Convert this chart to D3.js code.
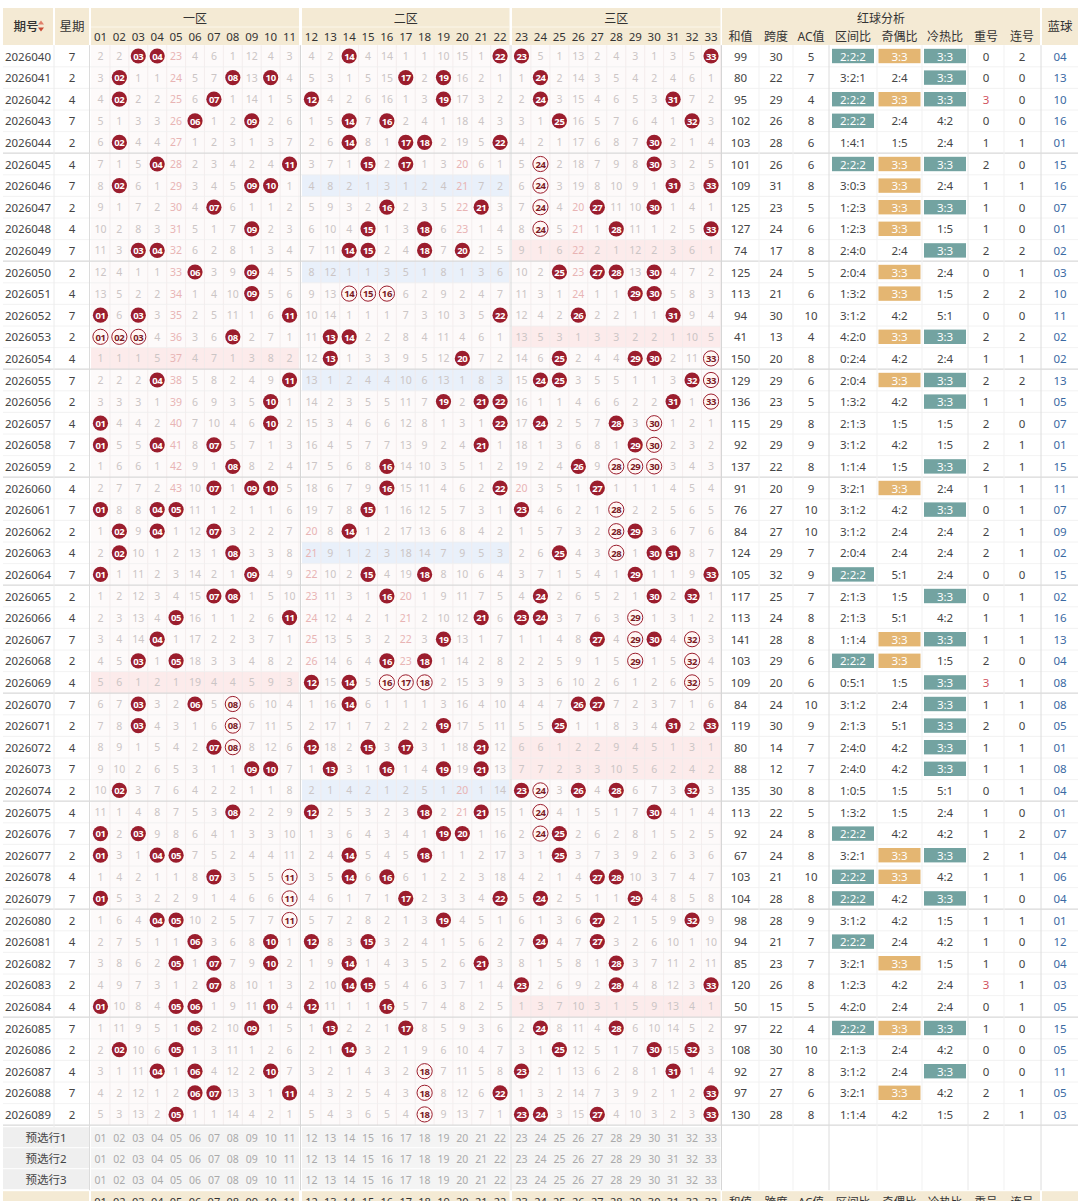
<!DOCTYPE html>
<html>
<head>
<meta charset="utf-8">
<script src="https://cdn.jsdelivr.net/npm/d3@7"></script>
<style>
  body { margin: 0; background: #fff; }
  svg text { font-family: "Noto Sans", "Noto Sans CJK SC", sans-serif; }
</style>
</head>
<body>
<div class="canvas"></div>
<script>
// draw periods
const periods = ['2026040','2026041','2026042','2026043','2026044','2026045','2026046','2026047','2026048','2026049',
  '2026050','2026051','2026052','2026053','2026054','2026055','2026056','2026057','2026058','2026059',
  '2026060','2026061','2026062','2026063','2026064','2026065','2026066','2026067','2026068','2026069',
  '2026070','2026071','2026072','2026073','2026074','2026075','2026076','2026077','2026078','2026079',
  '2026080','2026081','2026082','2026083','2026084','2026085','2026086','2026087','2026088','2026089'];

const weekdays = [7,2,4,7,2, 4,7,2,4,7, 2,4,7,2,4, 7,2,4,7,2, 4,7,2,4,7, 2,4,7,2,4, 7,2,4,7,2, 4,7,2,4,7, 2,4,7,2,4, 7,2,4,7,2];

// six red balls of every draw
const redBalls = [
  [3,4,14,22,23,33],[2,8,10,17,19,24],[2,7,12,19,24,31],[6,9,14,16,25,32],[2,14,17,18,22,30],
  [4,11,15,17,24,30],[2,9,10,24,31,33],[7,16,21,24,27,30],[9,15,18,24,28,33],[3,4,14,15,18,20],
  [6,9,25,27,28,30],[9,14,15,16,29,30],[1,3,11,22,26,31],[1,2,3,8,13,14],[13,20,25,29,30,33],
  [4,11,24,25,32,33],[10,19,21,22,31,33],[1,10,22,24,28,30],[1,4,7,21,29,30],[8,16,26,28,29,30],
  [7,9,10,16,22,27],[1,4,5,15,23,28],[2,4,7,14,28,29],[2,8,25,28,30,31],[1,9,15,18,29,33],
  [7,8,16,24,30,32],[5,11,21,23,24,29],[4,19,27,29,30,32],[3,5,16,18,29,32],[12,14,16,17,18,32],
  [3,6,8,14,26,27],[3,8,19,25,31,33],[7,8,12,15,17,21],[9,10,13,16,19,21],[2,23,24,26,28,32],
  [8,12,18,21,24,30],[1,3,19,20,24,25],[1,4,5,14,18,25],[7,11,14,16,27,28],[1,11,17,22,24,29],
  [4,5,11,19,27,32],[6,10,12,15,24,27],[5,7,10,14,21,28],[7,14,15,23,28,33],[1,5,6,10,12,16],
  [6,9,13,17,24,28],[2,5,14,25,30,32],[4,6,10,18,23,31],[6,7,11,18,22,33],[5,18,23,24,27,33]
];

// balls drawn as hollow rings (streaks), per row
const ringBalls = [
  [],[],[],[],[], [24],[24],[24],[24],[],
  [],[14,15,16],[],[1,2,3],[33], [33],[33],[30],[30],[28,29,30],
  [],[28],[28],[28],[], [],[29],[29,32],[29,32],[16,17,18,32],
  [8],[8],[8],[],[24], [24],[24],[],[11],[11],
  [11],[],[],[],[], [],[],[18],[18],[18]
];

// omission shown in the first row (0 = drawn)
const firstOmission = [2,2,0,0,23,4,6,1,12,4,3, 4,2,0,4,14,1,1,10,15,1,0, 0,5,1,13,2,4,3,1,3,5,0];

const ballLabels = ['01','02','03','04','05','06','07','08','09','10','11','12','13','14','15','16','17',
  '18','19','20','21','22','23','24','25','26','27','28','29','30','31','32','33'];
const zoneNames = ['一区','二区','三区'];

const sums = [99,80,95,102,103, 101,109,125,127,74, 125,113,94,41,150, 129,136,115,92,137, 91,76,84,124,105,
  117,113,141,103,109, 84,119,80,88,135, 113,92,67,103,104, 98,94,85,120,50, 97,108,92,97,130];
const spans = [30,22,29,26,28, 26,31,23,24,17, 24,21,30,13,20, 29,23,29,29,22, 20,27,27,29,32,
  25,24,28,29,20, 24,30,14,12,30, 22,24,24,21,28, 28,21,23,26,15, 22,30,27,27,28];
const acValues = [5,7,4,8,6, 6,8,5,6,8, 5,6,10,4,8, 6,5,8,9,8, 9,10,10,7,9, 7,8,8,6,6,
  10,9,7,7,8, 5,8,8,10,8, 9,7,7,8,5, 4,10,8,6,8];
const zoneRatios = ['2:2:2','3:2:1','2:2:2','2:2:2','1:4:1','2:2:2','3:0:3','1:2:3','1:2:3','2:4:0',
  '2:0:4','1:3:2','3:1:2','4:2:0','0:2:4','2:0:4','1:3:2','2:1:3','3:1:2','1:1:4',
  '3:2:1','3:1:2','3:1:2','2:0:4','2:2:2','2:1:3','2:1:3','1:1:4','2:2:2','0:5:1',
  '3:1:2','2:1:3','2:4:0','2:4:0','1:0:5','1:3:2','2:2:2','3:2:1','2:2:2','2:2:2',
  '3:1:2','2:2:2','3:2:1','1:2:3','4:2:0','2:2:2','2:1:3','3:1:2','3:2:1','1:1:4'];
const oddEven = ['3:3','2:4','3:3','2:4','1:5','3:3','3:3','3:3','3:3','2:4',
  '3:3','3:3','4:2','3:3','4:2','3:3','4:2','1:5','4:2','1:5',
  '3:3','4:2','2:4','2:4','5:1','1:5','5:1','3:3','3:3','1:5',
  '2:4','5:1','4:2','4:2','1:5','1:5','4:2','3:3','3:3','4:2',
  '4:2','2:4','3:3','4:2','2:4','3:3','2:4','2:4','3:3','4:2'];
const hotCold = ['3:3','3:3','3:3','4:2','2:4','3:3','2:4','3:3','1:5','3:3',
  '2:4','1:5','5:1','3:3','2:4','3:3','3:3','1:5','1:5','3:3',
  '2:4','3:3','2:4','2:4','2:4','3:3','4:2','3:3','1:5','3:3',
  '3:3','3:3','3:3','3:3','5:1','2:4','4:2','3:3','4:2','3:3',
  '1:5','4:2','1:5','2:4','2:4','3:3','4:2','3:3','4:2','1:5'];
const repeats = [0,0,3,0,1, 2,1,1,1,2, 0,2,0,2,1, 2,1,2,2,2, 1,0,2,2,0, 0,1,1,2,3,
  1,2,1,1,0, 1,1,2,1,1, 1,1,1,3,0, 1,0,0,2,2];
const consecutive = [2,0,0,0,1, 0,1,0,0,2, 1,2,0,2,1, 2,1,0,1,1, 1,1,1,1,0, 1,1,1,0,1,
  1,0,1,1,1, 0,2,1,1,0, 1,0,0,1,1, 0,0,0,1,1];
const blueBalls = ['04','13','10','16','01','15','16','07','01','02','03','10','11','02','02',
  '13','05','07','01','15','11','07','09','02','15','02','16','13','04','08',
  '08','05','01','08','04','01','07','04','06','04','01','12','04','03','05',
  '15','05','11','05','03'];

const statCols = ['和值','跨度','AC值','区间比','奇偶比','冷热比','重号','连号'];
const preRows = ['预选行1','预选行2','预选行3'];

// colours
const headBg = '#f4ead4';
const ballRed = '#9b1d2d';
const teal = '#73a3a1';
const gold = '#e4b672';

const W = 1080, H = 1201;
const svg = d3.select('.canvas')
  .append('svg')
  .attr('width', W)
  .attr('height', H);

// scales
const rowH = 21.6;
const y = d3.scaleBand()
  .domain(periods)
  .range([45.2, 45.2 + rowH * periods.length]);

const zoneRanges = [[91, 299], [302, 509.5], [512, 720.5]];
const zoneX = zoneRanges.map((r, i) => d3.scaleBand()
  .domain(ballLabels.slice(i * 11, i * 11 + 11))
  .range(r));
const zoneOf = n => Math.floor((n - 1) / 11);
const bx = n => {
  const s = zoneX[zoneOf(n)];
  return s(ballLabels[n - 1]) + s.bandwidth() / 2;
};
const cellW = zoneX[0].bandwidth();

const statEdges = [722, 759, 793, 829, 877, 922, 968, 1004, 1040];
const statX = d3.scaleOrdinal().domain(statCols).range(statEdges.slice(0, 8));
const statW = d => statEdges[statCols.indexOf(d) + 1] - statX(d);
const blueX = [1042, 1078];

const bodyTop = y.range()[0], bodyBot = y.range()[1];
const preY = d3.scaleBand().domain(preRows).range([bodyBot + 2, bodyBot + 65]);
const footTop = preY.range()[1];

// ---------- header ----------
const head = svg.append('g').attr('class', 'head');

const headCell = (x, yy, w, h) => head.append('rect')
  .attr('x', x).attr('y', yy).attr('width', w).attr('height', h).attr('fill', headBg);

headCell(3, 8, 50, 37);
headCell(55, 8, 34, 37);
zoneRanges.forEach((r, i) => {
  headCell(r[0], 8, r[1] - r[0], 37);
  head.append('text').attr('x', (r[0] + r[1]) / 2).attr('y', 18)
    .attr('text-anchor', 'middle').attr('dominant-baseline', 'central')
    .attr('font-size', 12).attr('fill', '#333').text(zoneNames[i]);
  head.append('line').attr('x1', r[0]).attr('x2', r[1]).attr('y1', 27).attr('y2', 27)
    .attr('stroke', '#fbf6ea').attr('stroke-width', 1);
});
headCell(722, 8, 318, 37);
headCell(blueX[0], 8, blueX[1] - blueX[0], 37);

head.append('text').attr('x', 26).attr('y', 26.5)
  .attr('text-anchor', 'middle').attr('dominant-baseline', 'central')
  .attr('font-size', 12.5).attr('font-weight', 500).attr('fill', '#333').text('期号');
head.append('path').attr('d', 'M38,24.5 L41,20.5 L44,24.5 Z').attr('fill', '#e0806b');
head.append('path').attr('d', 'M38,27.5 L41,31.5 L44,27.5 Z').attr('fill', '#c94a35');
head.append('text').attr('x', 72).attr('y', 26.5)
  .attr('text-anchor', 'middle').attr('dominant-baseline', 'central')
  .attr('font-size', 12.5).attr('fill', '#333').text('星期');
head.append('text').attr('x', 881).attr('y', 18)
  .attr('text-anchor', 'middle').attr('dominant-baseline', 'central')
  .attr('font-size', 12).attr('fill', '#333').text('红球分析');
head.append('text').attr('x', (blueX[0] + blueX[1]) / 2).attr('y', 26.5)
  .attr('text-anchor', 'middle').attr('dominant-baseline', 'central')
  .attr('font-size', 12.5).attr('fill', '#333').text('蓝球');

head.selectAll('.hnum').data(ballLabels).enter().append('text')
  .attr('x', (d, i) => bx(i + 1)).attr('y', 36.5)
  .attr('text-anchor', 'middle').attr('dominant-baseline', 'central')
  .attr('font-size', 11.5).attr('fill', '#333').text(d => d);

head.selectAll('.hstat').data(statCols).enter().append('text')
  .attr('x', d => statX(d) + statW(d) / 2).attr('y', 36.5)
  .attr('text-anchor', 'middle').attr('dominant-baseline', 'central')
  .attr('font-size', 12).attr('fill', '#333').text(d => d);

// ---------- body backgrounds ----------
const body = svg.append('g').attr('class', 'body');

zoneRanges.forEach(r => {
  body.append('rect').attr('x', r[0]).attr('y', bodyTop)
    .attr('width', r[1] - r[0]).attr('height', bodyBot - bodyTop).attr('fill', '#fdfafa');
});

// empty zone shading
const shade = [];
redBalls.forEach((balls, i) => {
  [0, 1, 2].forEach(z => {
    if (!balls.some(n => zoneOf(n) === z)) shade.push({ row: periods[i], zone: z });
  });
});
body.selectAll('.shade').data(shade).enter().append('rect')
  .attr('x', d => zoneRanges[d.zone][0]).attr('y', d => y(d.row))
  .attr('width', d => zoneRanges[d.zone][1] - zoneRanges[d.zone][0])
  .attr('height', y.bandwidth())
  .attr('fill', d => d.zone === 1 ? '#e9f0fa' : '#fcebeb');

// vertical cell lines in ball area
body.selectAll('.vcell').data(ballLabels).enter().append('line')
  .attr('x1', (d, i) => bx(i + 1) + cellW / 2).attr('x2', (d, i) => bx(i + 1) + cellW / 2)
  .attr('y1', bodyTop).attr('y2', bodyBot)
  .attr('stroke', '#f1eaea').attr('stroke-width', 0.8);

// row lines
body.selectAll('.hrow').data(periods).enter().append('line')
  .attr('x1', 3).attr('x2', 1078)
  .attr('y1', d => y(d) + y.bandwidth()).attr('y2', d => y(d) + y.bandwidth())
  .attr('stroke', (d, i) => (i % 5 === 4) ? '#d9d9d9' : '#efefef')
  .attr('stroke-width', (d, i) => (i % 5 === 4) ? 1.2 : 0.8);

// column lines
[[54, '#ececec'], [89.5, '#dcdcdc'], [300.5, '#d6d6d6'], [511, '#d6d6d6'], [721.5, '#d6d6d6'],
 [759, '#f1f1f1'], [793, '#f1f1f1'], [829, '#dcdcdc'], [877, '#f1f1f1'], [922, '#f1f1f1'],
 [968, '#e8e8e8'], [1004, '#f1f1f1'], [1041, '#dcdcdc']].forEach(([x, c]) => {
  body.append('line').attr('x1', x).attr('x2', x).attr('y1', bodyTop).attr('y2', bodyBot + 65)
    .attr('stroke', c).attr('stroke-width', 1);
});

// ---------- rows ----------
const rows = body.selectAll('.row').data(periods).enter().append('g')
  .attr('class', 'row')
  .attr('transform', d => `translate(0, ${y(d) + y.bandwidth() / 2})`);

rows.append('text').attr('x', 28).attr('dominant-baseline', 'central').attr('text-anchor', 'middle')
  .attr('font-size', 11.5).attr('fill', '#444').text(d => d);
rows.append('text').attr('x', 72).attr('dominant-baseline', 'central').attr('text-anchor', 'middle')
  .attr('font-size', 11.5).attr('fill', '#444').text((d, i) => weekdays[i]);

// omission of every cell, carried from the first row
const omission = [];
redBalls.forEach((balls, i) => {
  omission.push(i === 0 ? firstOmission.slice()
    : omission[i - 1].map((v, k) => balls.includes(k + 1) ? 0 : v + 1));
});

rows.each(function (p, i) {
  const g = d3.select(this);
  const cells = ballLabels.map((lab, k) => ({
    n: k + 1, lab, hit: redBalls[i].includes(k + 1),
    ring: ringBalls[i].includes(k + 1), miss: omission[i][k]
  }));

  g.selectAll('.miss').data(cells.filter(c => !c.hit)).enter().append('text')
    .attr('x', c => bx(c.n)).attr('dominant-baseline', 'central').attr('text-anchor', 'middle')
    .attr('font-size', 10.5)
    .attr('fill', c => c.miss >= 20 ? '#e8b4b4' : '#cbc5c5')
    .text(c => c.miss);

  const hits = g.selectAll('.ball').data(cells.filter(c => c.hit)).enter().append('g')
    .attr('transform', c => `translate(${bx(c.n)},0)`);
  hits.append('circle').attr('r', 7.6)
    .attr('fill', c => c.ring ? '#fff6f4' : ballRed)
    .attr('stroke', c => c.ring ? ballRed : 'none').attr('stroke-width', 1);
  hits.append('text').attr('dominant-baseline', 'central').attr('text-anchor', 'middle')
    .attr('y', 0.3).attr('font-size', 9.5).attr('font-weight', 700).attr('letter-spacing', -0.4)
    .attr('fill', c => c.ring ? '#7a1a24' : '#fff').text(c => c.lab);

  // analysis values
  const stats = [sums[i], spans[i], acValues[i], zoneRatios[i], oddEven[i], hotCold[i], repeats[i], consecutive[i]];
  const badge = [false, false, false, zoneRatios[i] === '2:2:2' ? teal : null,
    oddEven[i] === '3:3' ? gold : null, hotCold[i] === '3:3' ? teal : null, null, null];
  statCols.forEach((col, k) => {
    const cx = statX(col) + statW(col) / 2;
    if (badge[k]) {
      g.append('rect').attr('x', cx - 21).attr('y', -7.2).attr('width', 42).attr('height', 14.4)
        .attr('fill', badge[k]);
    }
    g.append('text').attr('x', cx).attr('dominant-baseline', 'central').attr('text-anchor', 'middle')
      .attr('font-size', 11.5)
      .attr('fill', badge[k] ? '#fff' : (k === 6 && stats[k] >= 3 ? '#d0525e' : '#444'))
      .text(stats[k]);
  });
  g.append('text').attr('x', (blueX[0] + blueX[1]) / 2).attr('dominant-baseline', 'central')
    .attr('text-anchor', 'middle').attr('font-size', 11.5).attr('fill', '#3b6aa3').text(blueBalls[i]);
});

// ---------- pre-selection rows ----------
const pre = svg.append('g').attr('class', 'pre');
pre.selectAll('.plab').data(preRows).enter().append('rect')
  .attr('x', 3).attr('y', d => preY(d)).attr('width', 86).attr('height', preY.bandwidth() - 1)
  .attr('fill', '#efefef');
pre.selectAll('.pt').data(preRows).enter().append('text')
  .attr('x', 46).attr('y', d => preY(d) + preY.bandwidth() / 2)
  .attr('dominant-baseline', 'central').attr('text-anchor', 'middle')
  .attr('font-size', 11.5).attr('fill', '#444').text(d => d);
zoneRanges.forEach(r => {
  pre.selectAll(null).data(preRows).enter().append('rect')
    .attr('x', r[0]).attr('y', d => preY(d)).attr('width', r[1] - r[0]).attr('height', preY.bandwidth() - 1)
    .attr('fill', '#f4f4f4');
});
preRows.forEach(p => {
  pre.selectAll(null).data(ballLabels).enter().append('text')
    .attr('x', (d, i) => bx(i + 1)).attr('y', preY(p) + preY.bandwidth() / 2)
    .attr('dominant-baseline', 'central').attr('text-anchor', 'middle')
    .attr('font-size', 10.5).attr('fill', '#aaa').text(d => d);
});

// ---------- footer header (cut by the page edge) ----------
const foot = svg.append('g').attr('class', 'foot');
foot.append('rect').attr('x', 3).attr('y', footTop + 1).attr('width', 86).attr('height', 22).attr('fill', headBg);
zoneRanges.forEach(r => {
  foot.append('rect').attr('x', r[0]).attr('y', footTop + 1).attr('width', r[1] - r[0]).attr('height', 22)
    .attr('fill', headBg);
});
foot.append('rect').attr('x', 722).attr('y', footTop + 1).attr('width', 318).attr('height', 22).attr('fill', headBg);
foot.append('rect').attr('x', blueX[0]).attr('y', footTop + 1).attr('width', blueX[1] - blueX[0])
  .attr('height', 22).attr('fill', headBg);
foot.selectAll('.fnum').data(ballLabels).enter().append('text')
  .attr('x', (d, i) => bx(i + 1)).attr('y', footTop + 11)
  .attr('text-anchor', 'middle').attr('dominant-baseline', 'central')
  .attr('font-size', 11).attr('fill', '#333').text(d => d);
foot.selectAll('.fstat').data(statCols).enter().append('text')
  .attr('x', d => statX(d) + statW(d) / 2).attr('y', footTop + 11)
  .attr('text-anchor', 'middle').attr('dominant-baseline', 'central')
  .attr('font-size', 11.5).attr('fill', '#333').text(d => d);
</script>
</body>
</html>
